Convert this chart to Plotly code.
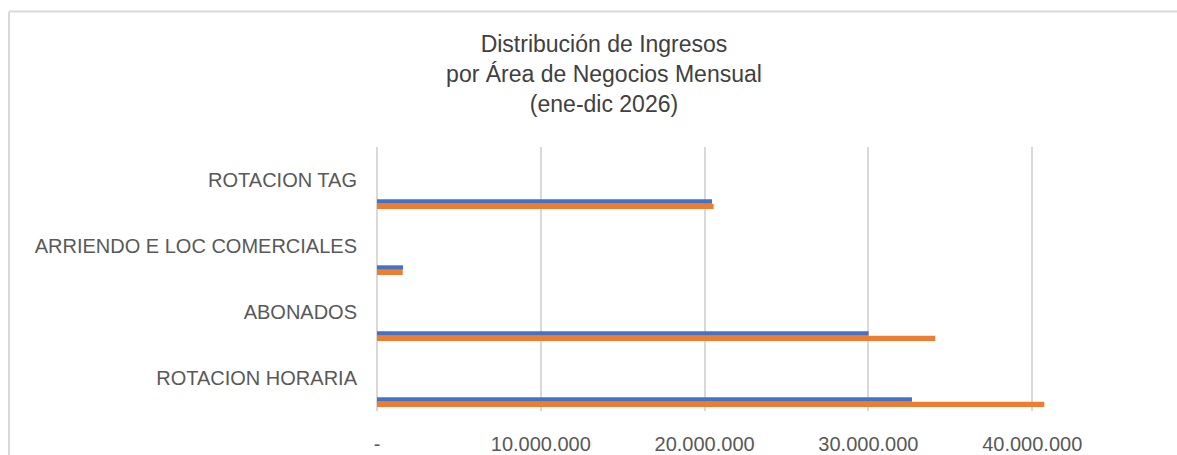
import plotly.graph_objects as go

categories = ["ROTACION HORARIA", "ABONADOS", "ARRIENDO E LOC COMERCIALES", "ROTACION TAG"]
serie_1 = [32660000, 30010000, 1590000, 20450000]
serie_2 = [40740000, 34080000, 1570000, 20550000]
tick_vals = [0, 10000000, 20000000, 30000000, 40000000]
tick_text = ["-", "10.000.000", "20.000.000", "30.000.000", "40.000.000"]

W, H = 1177, 455
L, R, T, B = 377, 0, 147, 44
pw, ph = W - L - R, H - T - B

fig = go.Figure()
fig.add_trace(go.Bar(
    y=categories, x=serie_1, orientation="h", name="Serie 1",
    marker=dict(color="#4472C4", line=dict(width=0)),
    offset=-0.3606, width=0.068,
))
fig.add_trace(go.Bar(
    y=categories, x=serie_2, orientation="h", name="Serie 2",
    marker=dict(color="#ED7D31", line=dict(width=0)),
    offset=-0.4394, width=0.0788,
))

def px_x(p):
    return (p - L) / pw

def px_y(p):
    return (H - B - p) / ph

grey = "#d9d9d9"
fig.update_layout(
    width=W, height=H,
    margin=dict(l=L, r=R, t=T, b=B, autoexpand=False),
    paper_bgcolor="white", plot_bgcolor="white",
    barmode="overlay",
    showlegend=False,
    font=dict(family="Liberation Sans, Arial, sans-serif", color="#595959"),
    title=dict(
        text="Distribución de Ingresos<br>por Área de Negocios Mensual<br>(ene-dic 2026)",
        x=(604 / W), xanchor="center", y=1 - 52 / H, yanchor="top",
        font=dict(size=23, color="#404040"),
    ),
    xaxis=dict(
        range=[0, 48840000], tickvals=tick_vals, ticktext=tick_text,
        showgrid=True, gridcolor=grey, gridwidth=1.5,
        zeroline=True, zerolinecolor=grey, zerolinewidth=1.5,
        ticks="outside", ticklen=15, tickcolor="rgba(0,0,0,0)",
        tickfont=dict(size=20, color="#595959"),
        showline=False, fixedrange=True,
    ),
    yaxis=dict(
        range=[-0.5, 3.5], showgrid=False, zeroline=False,
        ticks="outside", ticklen=15, tickcolor="rgba(0,0,0,0)",
        tickfont=dict(size=20, color="#595959"),
        showline=False, fixedrange=True,
    ),
    shapes=[
        dict(type="line", xref="paper", yref="paper",
             x0=px_x(9), x1=px_x(9), y0=px_y(11.5), y1=px_y(H + 5),
             line=dict(color=grey, width=2)),
        dict(type="line", xref="paper", yref="paper",
             x0=px_x(9), x1=px_x(W + 5), y0=px_y(11.5), y1=px_y(11.5),
             line=dict(color=grey, width=2)),
    ],
)

fig.write_html(
    "out.html",
    config={"displayModeBar": False},
    post_script="document.body.style.margin='0';document.body.style.overflow='hidden';",
)
